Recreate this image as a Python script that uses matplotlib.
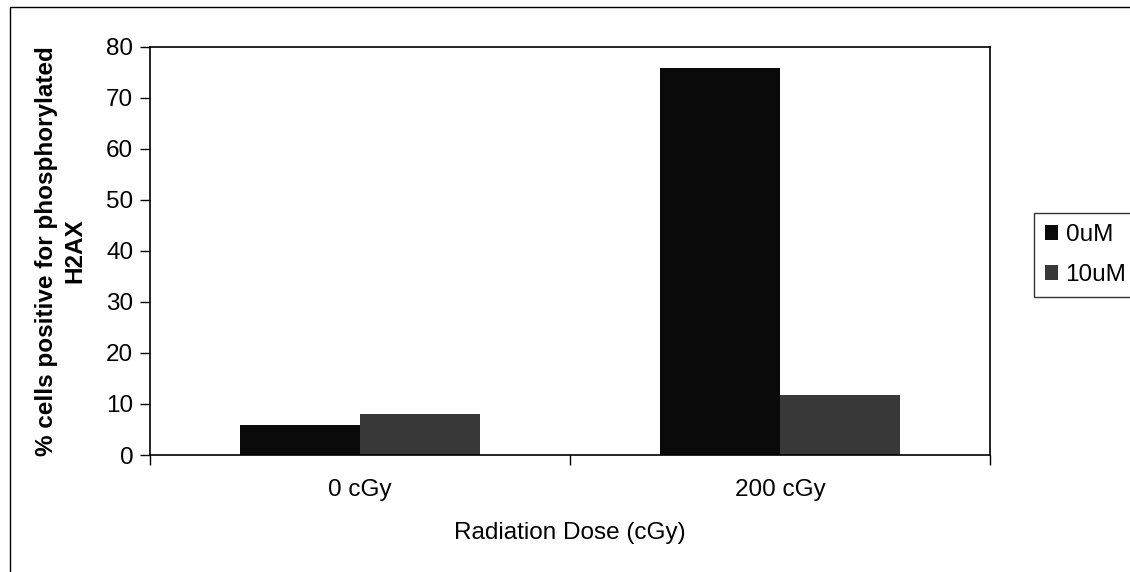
import matplotlib
matplotlib.use("Agg")
import matplotlib.pyplot as plt
import numpy as np
from matplotlib.patches import Rectangle

plt.rcParams["font.family"] = ["Liberation Sans", "DejaVu Sans"]

doses = ["0 cGy", "200 cGy"]
series = ["0uM", "10uM"]
vals_0um = [5.9, 75.8]
vals_10um = [8.0, 11.8]
colors = ["#0a0a0a", "#383838"]

FS = 17.5

fig = plt.figure(figsize=(11.3, 5.72), dpi=100)
ax = fig.add_axes([150 / 1130, 1 - 455 / 572, 840 / 1130, 408 / 572])

x = np.arange(len(doses))
w = 0.2857
ax.bar(x - w / 2, vals_0um, width=w, color=colors[0], label=series[0])
ax.bar(x + w / 2, vals_10um, width=w, color=colors[1], label=series[1])

ax.set_xlim(-0.5, len(doses) - 0.5)
ax.set_ylim(0, 80)
ax.set_yticks(np.arange(0, 81, 10))
ax.tick_params(axis="y", labelsize=FS, length=7, width=1, pad=5)

# category labels between boundary ticks, like Excel
ax.set_xticks(np.arange(-0.5, len(doses), 1.0))
ax.set_xticklabels([])
ax.tick_params(axis="x", length=7, width=1)
for xi, lab in zip(x, doses):
    ax.text(xi, -0.085, lab, transform=ax.get_xaxis_transform(),
            ha="center", va="center", fontsize=FS)

for s in ax.spines.values():
    s.set_linewidth(1.2)
    s.set_color("black")

ax.set_xlabel("Radiation Dose (cGy)", fontsize=FS)
ax.xaxis.set_label_coords(0.5, -0.165)
ax.set_ylabel("% cells positive for phosphorylated\nH2AX", fontsize=FS,
              fontweight="bold", linespacing=1.3)
ax.yaxis.set_label_coords(-0.076, 0.5)

leg = fig.legend(handles=ax.patches[:1] + ax.patches[2:3], labels=series,
                 loc="upper left", bbox_to_anchor=(1034 / 1130, 1 - 213 / 572),
                 fontsize=FS, frameon=True, fancybox=False, handlelength=0.55,
                 handleheight=0.55, handletextpad=0.3, borderpad=0.45,
                 labelspacing=0.75, borderaxespad=0)
leg.get_frame().set_edgecolor("black")
leg.get_frame().set_linewidth(1.0)

# outer chart-area border
fig.patches.append(Rectangle((10 / 1130, -0.05), 1.1, 1.05 - 7 / 572,
                             transform=fig.transFigure, fill=False,
                             edgecolor="black", linewidth=1.0))

fig.savefig("out.png", dpi=100)
